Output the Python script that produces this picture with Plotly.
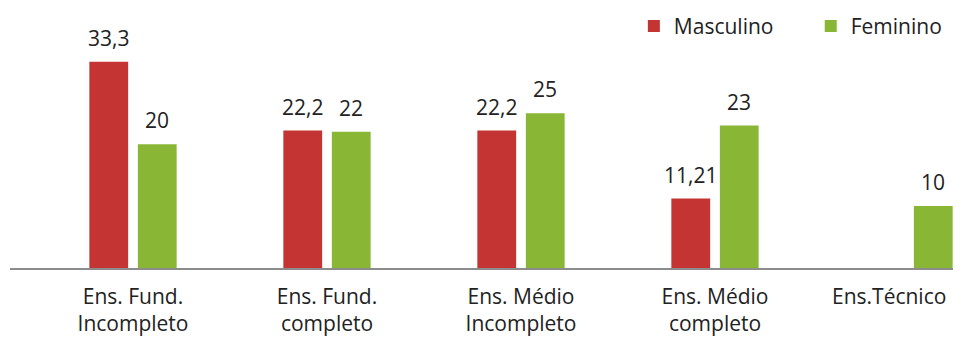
import plotly.graph_objects as go

categories = ["Ens. Fund. Incompleto", "Ens. Fund. completo", "Ens. Médio Incompleto",
              "Ens. Médio completo", "Ens.Técnico"]
tick_labels = ["Ens. Fund.<br>Incompleto", "Ens. Fund.<br>completo", "Ens. Médio<br>Incompleto",
               "Ens. Médio<br>completo", "Ens.Técnico"]
masculino = [33.3, 22.2, 22.2, 11.21, None]
feminino = [20, 22, 25, 23, 10]
masc_labels = ["33,3", "22,2", "22,2", "11,21", ""]
fem_labels = ["20", "22", "25", "23", "10"]

FONT = "Open Sans, Liberation Sans, sans-serif"
FS = 21
fig = go.Figure()
fig.add_trace(go.Bar(name="Masculino", x=categories, y=masculino,
                     marker=dict(color="#C43432", line=dict(width=0)), legend="legend"))
fig.add_trace(go.Bar(name="Feminino", x=categories, y=feminino,
                     marker=dict(color="#8AB636", line=dict(width=0)), legend="legend2"))

# value labels above bars
for vals, labels, shift in ((masculino, masc_labels, -24.25), (feminino, fem_labels, 24.25)):
    for c, v, t in zip(categories, vals, labels):
        if v is None:
            continue
        fig.add_annotation(x=c, y=v, text=t, showarrow=False, xshift=shift, yshift=8,
                           yanchor="bottom", font=dict(size=FS, family=FONT, color="#222222"))

# the last category label sits left of its slot in the reference (kept inside the frame)
shown_ticks = tick_labels[:-1] + [""]
fig.add_annotation(x=categories[-1], y=0, text=tick_labels[-1], showarrow=False,
                   xshift=-20, yshift=-12, yanchor="top",
                   font=dict(size=FS, family=FONT, color="#222222"))

leg = dict(orientation="h", xanchor="left", y=1.008, yanchor="top",
           font=dict(size=FS, family=FONT, color="#222222"), bgcolor="rgba(0,0,0,0)")
fig.update_layout(
    width=953, height=330,
    margin=dict(l=2, r=0, t=0, b=70, autoexpand=False),
    paper_bgcolor="white", plot_bgcolor="white",
    barmode="group", bargap=0.5, bargroupgap=0.2,
    font=dict(family=FONT, size=FS, color="#222222"),
    showlegend=True,
    legend=dict(leg, x=0.656),
    legend2=dict(leg, x=0.842),
    xaxis=dict(type="category", range=[-0.634, 4.268], showline=True, linecolor="#8c8c8c",
               linewidth=1.5, ticks="", showgrid=False, ticklabelstandoff=9, automargin=False,
               tickmode="array", tickvals=categories, ticktext=shown_ticks,
               tickfont=dict(size=FS, family=FONT, color="#222222")),
    yaxis=dict(range=[0, 42.0], visible=False, showgrid=False, zeroline=False),
)
fig.write_html("out.html")
